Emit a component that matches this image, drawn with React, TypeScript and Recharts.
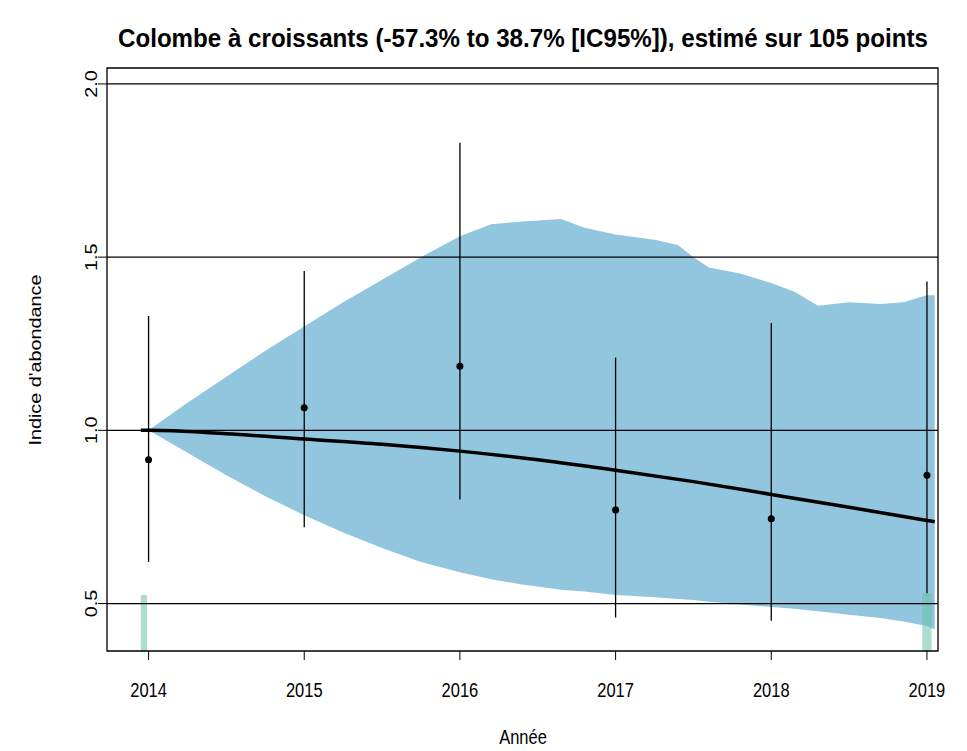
import {
  ComposedChart,
  Area,
  Line,
  Scatter,
  ErrorBar,
  XAxis,
  YAxis,
  ReferenceLine,
  ReferenceArea,
} from 'recharts';

// observed yearly indices with their 95% intervals
const years = [2014, 2015, 2016, 2017, 2018, 2019];
const obsIndex = [0.915, 1.065, 1.185, 0.77, 0.745, 0.87];
const obsLow = [0.62, 0.72, 0.8, 0.46, 0.45, 0.53];
const obsHigh = [1.33, 1.46, 1.83, 1.21, 1.31, 1.43];

// smoothed trend
const trendYears = [2013.95, 2014, 2014.5, 2015, 2015.5, 2016, 2016.5, 2017, 2017.5, 2018, 2018.5, 2019, 2019.05];
const trendValues = [1.0, 1.0, 0.99, 0.975, 0.96, 0.94, 0.915, 0.885, 0.852, 0.815, 0.778, 0.74, 0.736];

// confidence band of the trend
const ribbonYears = [
  2014, 2014.25, 2014.5, 2014.75, 2015, 2015.25, 2015.5, 2015.75, 2016, 2016.2, 2016.4, 2016.65, 2016.8,
  2017, 2017.25, 2017.4, 2017.5, 2017.6, 2017.8, 2018, 2018.15, 2018.3, 2018.5, 2018.7, 2018.85, 2019, 2019.05,
];
const ribbonHigh = [
  1.0, 1.08, 1.155, 1.23, 1.3, 1.37, 1.435, 1.5, 1.56, 1.595, 1.603, 1.61, 1.585,
  1.565, 1.55, 1.535, 1.5, 1.47, 1.453, 1.425, 1.4, 1.36, 1.37, 1.365, 1.37, 1.39, 1.39,
];
const ribbonLow = [
  1.0, 0.935, 0.87, 0.81, 0.755, 0.705, 0.66, 0.62, 0.59, 0.57, 0.555, 0.54, 0.535,
  0.525, 0.518, 0.513, 0.51, 0.505, 0.497, 0.49, 0.485, 0.478, 0.468, 0.458, 0.448, 0.435, 0.425,
];

// green marks at the bottom (first / last year)
const markFrom = [2013.95, 2018.97];
const markTo = [2013.99, 2019.03];
const markTop = [0.525, 0.53];

const yTicks = [0.5, 1.0, 1.5, 2.0];
const xDomain = [2013.733, 2019.071];
const yDomain = [0.363, 2.046];

const FONT = '"Liberation Sans", Arial, Helvetica, sans-serif';
const STRETCH = 1.2; // the reference text is taller than it is wide

const ribbonRows = ribbonYears.map((x, i) => ({ x, band: [ribbonLow[i], ribbonHigh[i]] }));
const trendRows = trendYears.map((x, i) => ({ x, idx: trendValues[i] }));
const obsRows = years.map((x, i) => ({
  x,
  y: obsIndex[i],
  err: [obsIndex[i] - obsLow[i], obsHigh[i] - obsIndex[i]],
}));

// text drawn at (x, y), optionally rotated, stretched vertically on screen
const SText = ({ x, y, angle = 0, size = 16.5, bold = false, children, length }: any) => (
  <text
    transform={`translate(${x}, ${y}) scale(1, ${STRETCH}) rotate(${angle})`}
    textAnchor="middle"
    fontFamily={FONT}
    fontSize={size}
    fontWeight={bold ? 'bold' : 'normal'}
    fill="#000"
    textLength={length}
    lengthAdjust={length ? 'spacingAndGlyphs' : undefined}
  >
    {children}
  </text>
);

const XTick = ({ x, y, payload }: any) => (
  <SText x={x} y={y + 37}>
    {payload.value}
  </SText>
);

const YTick = ({ x, y, payload }: any) => (
  <SText x={x} y={y} angle={-90}>
    {Number(payload.value).toFixed(1)}
  </SText>
);

const Dot = (p: any) => <circle cx={p.cx} cy={p.cy} r={3.5} fill="#000" />;

export default function App() {
  return (
    <div style={{ position: 'absolute', left: 0, top: 0, width: 967, height: 751, background: '#fff' }}>
      <ComposedChart width={967} height={751} margin={{ top: 68, right: 29, bottom: 0, left: 0 }}>
        <XAxis
          dataKey="x"
          type="number"
          domain={xDomain}
          ticks={years}
          allowDataOverflow
          height={100}
          axisLine={false}
          tickSize={9}
          tickMargin={0}
          tickLine={{ stroke: '#000', strokeWidth: 1 }}
          tick={<XTick />}
        />
        <YAxis
          type="number"
          domain={yDomain}
          ticks={yTicks}
          allowDataOverflow
          width={107}
          axisLine={false}
          tickSize={9}
          tickMargin={1}
          tickLine={{ stroke: '#000', strokeWidth: 1 }}
          tick={<YTick />}
        />
        <Area
          data={ribbonRows}
          dataKey="band"
          type="linear"
          fill="#92c5de"
          fillOpacity={1}
          stroke="none"
          isAnimationActive={false}
        />
        {markFrom.map((x1, i) => (
          <ReferenceArea
            key={'m' + i}
            x1={x1}
            x2={markTo[i]}
            y1={yDomain[0]}
            y2={markTop[i]}
            fill="#66c2a5"
            fillOpacity={0.55}
            stroke="none"
          />
        ))}
        {yTicks.map((v) => (
          <ReferenceLine key={v} y={v} stroke="#000" strokeWidth={1.3} />
        ))}
        <Line
          data={trendRows}
          dataKey="idx"
          type="monotone"
          stroke="#000"
          strokeWidth={3.5}
          dot={false}
          isAnimationActive={false}
        />
        <Scatter data={obsRows} dataKey="y" shape={<Dot />} isAnimationActive={false}>
          <ErrorBar dataKey="err" direction="y" width={0} stroke="#000" strokeWidth={1.3} />
        </Scatter>
        <ReferenceArea
          x1={xDomain[0]}
          x2={xDomain[1]}
          y1={yDomain[0]}
          y2={yDomain[1]}
          fill="none"
          stroke="#000"
          strokeWidth={1.3}
          ifOverflow="visible"
        />
      </ComposedChart>
      <svg
        width={967}
        height={751}
        style={{ position: 'absolute', left: 0, top: 0, pointerEvents: 'none' }}
      >
        <SText x={523} y={47} size={21.5} bold length={810}>
          Colombe à croissants (-57.3% to 38.7% [IC95%]), estimé sur 105 points
        </SText>
        <SText x={523} y={744}>
          Année
        </SText>
        <SText x={41} y={360} angle={-90}>
          Indice d'abondance
        </SText>
      </svg>
    </div>
  );
}
